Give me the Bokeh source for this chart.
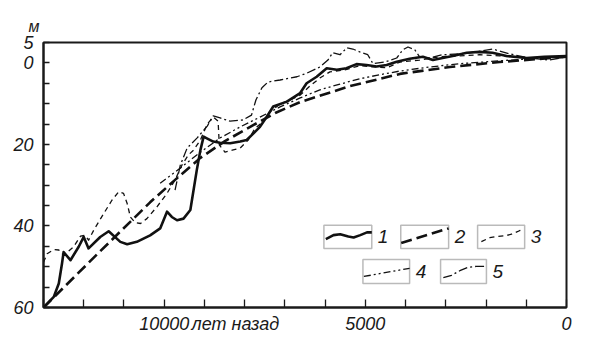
from bokeh.plotting import figure
from bokeh.models import Range1d, FixedTicker, BoxAnnotation, Label, LinearAxis
from bokeh.embed import file_html
from bokeh.resources import INLINE

# ---------------- data (years before present, depth in m; negative = above 0) -------------
years_1 = [13000, 12745, 12620, 12540, 12500, 12330, 12125, 12000, 11880, 11590, 11380, 11090,
           10920, 10680, 10350, 10100, 9930, 9810, 9680, 9520, 9350, 9190, 9100, 9020, 8940,
           8780, 8610, 8360, 8110, 7950, 7780, 7620, 7450, 7290, 6950, 6620, 6460, 6210, 5960,
           5710, 5470, 5220, 4970, 4720, 4470, 4220, 3900, 3570, 3320, 3080, 2830, 2480, 2160,
           1840, 1490, 990, 550, 0]
depth_1 = [60, 57.4, 54.1, 49.2, 46.4, 48.4, 45.1, 42.7, 45.5, 42.7, 41.3, 43.9,
           44.5, 43.9, 42.3, 40.6, 36.5, 37.8, 38.6, 38.2, 36.1, 26.3, 21.4, 18.1, 18.5,
           19.3, 19.6, 19.7, 19.3, 18.9, 17.3, 15.7, 13.2, 10.7, 9.5, 7.4, 5.0, 3.4, 1.3,
           1.7, 1.3, 0.3, 0.5, 0.9, 0.5, -0.3, -1.0, -1.5, -0.7, -1.2, -1.7, -2.5, -2.7,
           -2.5, -1.7, -1.2, -1.5, -1.7]

years_2 = [13000, 11590, 10350, 9730, 9100, 8490, 7830, 7240, 6620, 5380, 4140, 2900, 1660, 0]
depth_2 = [60, 46.2, 34.2, 28.7, 23.3, 19.2, 15.5, 12.3, 9.6, 5.7, 2.7, 1.0, -0.2, -1.5]

years_3 = [13000, 12910, 12745, 12620, 12500, 12250, 12080, 11960, 11880, 11750, 11500, 11300,
           11130, 11010, 10920, 10840, 10720, 10590, 10430, 10180, 9930, 9730, 9560, 9400,
           9270, 9100, 8930, 8780, 8660, 8630, 8490, 8310, 8110, 7910, 7740, 7570, 7370, 7120,
           6870, 6620, 6380, 6130, 5880, 5510, 5140, 4810, 4470, 4140, 3650, 3150, 2650, 2160,
           1660, 920, 0]
depth_3 = [48.9, 46.8, 45.8, 45.9, 47.2, 45.1, 42.5, 42.3, 43.5, 41.0, 36.9, 33.7,
           31.6, 32.0, 34.5, 37.8, 39.2, 39.4, 38.2, 35.3, 32.0, 28.7, 25.1, 22.6,
           21.4, 18.9, 15.0, 13.3, 14.3, 20.1, 21.9, 21.4, 20.9, 18.9, 16.0, 14.7, 12.0, 10.1,
           9.1, 7.9, 5.7, 3.7, 2.2, 1.7, 0.7, 1.0, 1.2, -0.2, -0.7, -1.5, -1.7, -2.0,
           -1.7, -1.2, -1.5]

years_4 = [10100, 9600, 9100, 8610, 8110, 7620, 7120, 6620, 6130, 5630, 5140, 4640, 4140,
           3400, 2650, 1660, 920, 0]
depth_4 = [29.5, 25.8, 21.9, 18.4, 15.7, 13.3, 10.8, 8.6, 6.6, 5.2, 3.9, 2.9, 2.0,
           1.0, 0.2, -0.5, -1.0, -1.5]

years_5 = [9730, 9600, 9430, 9180, 8930, 8780, 8610, 8360, 8040, 7830, 7720, 7570, 7420,
           7120, 6700, 6450, 6130, 5930, 5810, 5630, 5460, 5310, 5140, 4940, 4810, 4520,
           4220, 4070, 3940, 3770, 3650, 3400, 3080, 2650, 2230, 1840, 1410, 920, 420, 0]
depth_5 = [31.2, 25.1, 20.9, 18.4, 15.5, 13.0, 13.5, 14.3, 14.0, 12.8, 9.1, 6.1, 4.7,
           4.2, 3.4, 2.5, 1.0, -0.7, -2.5, -2.0, -3.7, -3.4, -2.7, -2.0, 0.2, -0.2,
           -1.2, -3.2, -3.9, -3.2, -1.5, -1.2, -2.0, -2.2, -2.7, -3.4, -2.2, -1.2, -0.7, -1.5]

y_ticks = [-5, 0, 5, 10, 15, 20, 25, 30, 35, 40, 45, 50, 55, 60]
y_tick_labels = {-5: "5", 0: "0", 20: "20", 40: "40", 60: "60"}
y_unit = "м"
x_ticks = list(range(0, 13001, 1000))
x_label_ticks = [10000, 8230, 5000, 0]
x_tick_labels = {10000: "10000", 8230: "лет назад", 5000: "5000", 0: "0"}
legend_names = ["1", "2", "3", "4", "5"]

# ---------------- styles ----------------
FONT = "Liberation Sans"
INK = "#1a1a1a"
styles = [
    dict(line_width=2.6, line_dash="solid"),
    dict(line_width=2.6, line_dash="11 5"),
    dict(line_width=1.3, line_dash="5 4"),
    dict(line_width=1.3, line_dash="7 3 2 3 2 3"),
    dict(line_width=1.3, line_dash="9 3 2 3"),
]

p = figure(width=600, height=354, output_backend="svg", toolbar_location=None,
           x_range=Range1d(13000, 0), y_range=Range1d(60, -5),
           min_border_left=43, min_border_right=34, min_border_top=42, min_border_bottom=47,
           title=y_unit)
p.background_fill_color = "white"
p.border_fill_color = "white"
p.outline_line_color = INK
p.outline_line_width = 2
p.xgrid.visible = False
p.ygrid.visible = False

p.title.text_font = FONT
p.title.text_font_style = "italic"
p.title.text_font_size = "16px"
p.title.text_color = INK
p.title.align = "left"
p.title.offset = -15
p.title.standoff = 16

for ax in (p.xaxis[0], p.yaxis[0]):
    ax.axis_line_width = 2
    ax.axis_line_color = INK
    ax.major_tick_out = 0
    ax.major_tick_line_width = 1.3
    ax.major_tick_line_color = INK
    ax.minor_tick_line_color = None
    ax.major_label_text_font = FONT
    ax.major_label_text_font_style = "italic"
    ax.major_label_text_color = INK

p.yaxis.ticker = FixedTicker(ticks=y_ticks)
p.yaxis.major_label_overrides = {k: y_tick_labels.get(k, "") for k in y_ticks}
p.yaxis.major_label_text_font_size = "18px"
p.yaxis.major_label_standoff = 10
p.yaxis.major_tick_in = 6

# x axis 1: line + inward ticks only
p.xaxis.ticker = FixedTicker(ticks=x_ticks)
p.xaxis.major_label_overrides = {k: "" for k in x_ticks}
p.xaxis.major_label_text_font_size = "1px"
p.xaxis.major_label_standoff = 0
p.xaxis.major_tick_in = 8

# x axis 2: labels only
xlab = LinearAxis(ticker=FixedTicker(ticks=x_label_ticks),
                  major_label_overrides=x_tick_labels,
                  axis_line_color=None, major_tick_line_color=None,
                  minor_tick_line_color=None, major_tick_in=0, major_tick_out=0,
                  major_label_standoff=6, major_label_text_font=FONT,
                  major_label_text_font_style="italic", major_label_text_font_size="18px",
                  major_label_text_color=INK)
p.add_layout(xlab, "below")

series = [(years_1, depth_1), (years_2, depth_2), (years_3, depth_3),
          (years_4, depth_4), (years_5, depth_5)]
for (xs, ys), st in zip(series, styles):
    p.line(xs, ys, line_color="#111111", line_join="round", **st)

# ---------------- custom legend ----------------
legend_boxes = [
    (6030, 4840, 39.8, 45.5),
    (4120, 2930, 39.8, 45.5),
    (2210, 1040, 39.8, 45.5),
    (5060, 3900, 48.2, 54.1),
    (3130, 1990, 48.2, 54.1),
]
legend_shapes = [
    [(0.04, 0.40), (0.2, 0.57), (0.34, 0.61), (0.51, 0.51), (0.62, 0.47), (0.76, 0.57), (0.9, 0.69), (1.0, 0.69)],
    [(0.01, 0.23), (1.0, 0.86)],
    [(0.08, 0.29), (0.26, 0.46), (0.4, 0.51), (0.58, 0.54), (0.72, 0.61), (0.89, 0.76), (0.98, 0.83)],
    [(0.02, 0.29), (1.0, 0.63)],
    [(0.06, 0.24), (0.24, 0.34), (0.42, 0.53), (0.6, 0.67), (0.78, 0.71), (1.0, 0.71)],
]
for (x0, x1, yt, yb), shape, st, name in zip(legend_boxes, legend_shapes, styles, legend_names):
    p.add_layout(BoxAnnotation(left=x1, right=x0, top=yt, bottom=yb, fill_alpha=0,
                               line_color=INK, line_width=1.5))
    lx = [x0 + fx * (x1 - x0) for fx, fy in shape]
    ly = [yb - fy * (yb - yt) for fx, fy in shape]
    p.line(lx, ly, line_color="#111111", **st)
    p.add_layout(Label(x=x1 - 150, y=(yt + yb) / 2, text=name, text_font=FONT,
                       text_font_style="italic", text_font_size="19px",
                       text_align="left", text_baseline="middle", text_color=INK))

open("out.html", "w").write(file_html(p, INLINE))
